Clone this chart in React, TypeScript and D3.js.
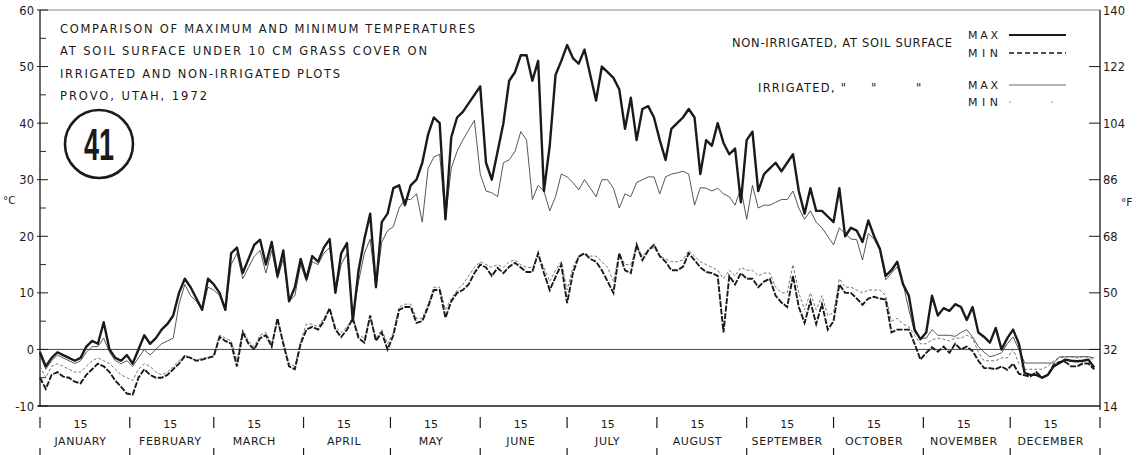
import React, { useEffect, useRef } from "react";
import * as d3 from "d3";

const width = 1147;
const height = 455;

// day of year (1972), one reading every second day
const days = d3.range(0, 365, 2);

// non-irrigated plot, soil surface, max (°C)
const niMax = [
  -0.5, -3, -1.5, -0.5, -1, -1.5, -2, -1.5, 0.5, 1.5,
  1, 4.8, 0, -1.5, -2, -1, -2.5, 0, 2.5, 1,
  2, 3.5, 4.5, 6, 10, 12.5, 11, 9, 7, 12.5,
  11.5, 10, 7, 17, 18, 13.5, 16, 18.5, 19.4, 15,
  19, 13, 17.5, 8.5, 11, 16, 12.5, 16.5, 15.5, 18,
  19.5, 10, 17, 18.8, 5, 14, 19.5, 24, 11, 22.5,
  24, 28.5, 29, 25.5, 29, 30, 33, 38, 41, 40,
  23, 37.5, 41, 42, 43.5, 45, 46.5, 33, 30, 35,
  40, 47.5, 49, 52, 52, 47.5, 51, 28, 36, 48.5,
  51, 53.8, 51.5, 50.5, 53, 48.5, 44, 50, 49, 48,
  46, 39, 44.5, 37, 42.5, 43, 41, 37, 33.5, 39,
  40, 41, 42.5, 41, 31, 37, 36, 40, 36.5, 34.5,
  35.5, 26, 37, 38.5, 28, 31, 32, 33, 31.5, 33,
  34.5, 28, 24, 28.5, 24.5, 24.5, 23.5, 22.5, 28.5, 20,
  21.5, 21, 19, 22.8, 20, 17.8, 13, 14, 15.5, 11.5,
  9.5, 3.5, 1.8, 3, 9.5, 6, 7.3, 6.8, 8, 7.5,
  5.2, 7.5, 3, 2.2, 1.2, 3.8, 0, 2, 3.5, 1,
  -4.2, -4.5, -4.5, -5, -4.5, -3, -2.4, -1.8, -2, -2.1,
  -2, -1.8, -3.2,
];

// non-irrigated plot, soil surface, min (°C)
const niMin = [
  -5, -7, -4.5, -4, -4.8, -5, -5.7, -6, -4.5, -3.5,
  -2.5, -3, -4, -5.5, -6.6, -7.8, -8, -5, -3.5, -4.5,
  -5, -5, -4.5, -3.5, -2.5, -1.2, -1.5, -2, -1.8, -1.5,
  -1.2, 2.2, 1.5, 1, -3, 3, 1, 0, 2, 2.5,
  0.5, 5.5, 1, -3, -3.5, 1, 3.5, 4, 3.5, 5,
  7.3, 3.5, 2.2, 3.5, 5.5, 2, 1.2, 6, 1.5, 3,
  0, 2.5, 7, 7.5, 7.5, 4.7, 5, 7.5, 10.5, 10.5,
  5.6, 8.5, 10, 10.5, 11.5, 13.5, 15, 14.5, 13, 14.4,
  13.5, 14.6, 15.3, 14.5, 13.7, 13.7, 17, 13.5, 10.5, 12.8,
  15, 8.2, 13.5, 16.4, 17, 16, 15.5, 14, 12, 10,
  17, 14, 13.5, 18.5, 15.8, 17.5, 18.5, 16.5, 15.5, 14,
  14, 14.6, 17, 15.8, 14.5, 13.7, 13.5, 13, 3, 13,
  11.5, 13.5, 12.5, 12.5, 11, 12, 12.5, 9.5, 8.3, 7.5,
  13, 7.5, 4.7, 8.5, 4.5, 8, 3.5, 5, 11.5, 10,
  10, 9, 7.9, 9, 9.3, 9, 8.8, 3, 3.5, 3.5,
  3.5, 1, -1.8, -0.6, 0.4, -0.4, 0.5, -0.6, 1, 0,
  0.5, -0.3, -2, -3.3, -3.3, -3.5, -3, -3.6, -2.5, -4.3,
  -4.6, -4.8, -4, -5, -4.5, -2.7, -2.2, -2.2, -3, -3,
  -2.5, -2.5, -3.5,
];

// irrigated plot, max (°C)
const irMax = [
  -1, -3.5, -2, -1, -1.5, -2, -2.5, -2, -0.5, 0.5,
  0.5, 2, -0.5, -2, -2.5, -2, -3, -1.5, 0, -1,
  0, 1, 1.5, 2, 8, 11.5, 9.5, 8.5, 7, 11,
  10.5, 9.5, 7, 15, 17, 12.5, 14.5, 16.5, 17.5, 13.5,
  17.5, 12.5, 16, 8.5, 9.5, 15, 12, 15.5, 15, 17,
  18, 10, 15, 17, 6, 12, 17, 19.5, 11, 19,
  21, 21.7, 25, 26.5, 26.5, 27.5, 22.5, 32, 34, 34.5,
  23, 32, 35, 37, 38.8, 40.5, 31, 28, 27.7, 27,
  33, 33.5, 35, 38.5, 37, 26.5, 29, 28, 24.5, 27,
  31, 30.5, 29.5, 28.2, 30, 28.5, 27, 30, 30, 28.5,
  25, 27.5, 27, 29.5, 30, 30.5, 30.5, 27.5, 30.5, 31,
  31.2, 31.5, 31, 25.5, 28.6, 28.5, 28, 28.5, 27.5, 27,
  25.5, 28.5, 23, 29, 25, 25.5, 25.5, 26, 26.5, 26.5,
  28, 25, 23, 24.5, 22.5, 21.5, 20, 18.5, 21.5, 20.5,
  19.5, 19.4, 15.8, 20.5, 19.5, 17.5, 12.3, 13.5, 14.6, 11.7,
  7, 3, 2, 2, 3.5, 2.5, 2.5, 2.5, 2.3, 3,
  3.5, 2.2, 0.5, -0.5, -1.3, -1, -0.6, 1, 2.2, 0,
  -2.4, -2.4, -2.4, -2.4, -2.4, -2.4, -1.3, -1.3, -1.3, -1.3,
  -1.3, -1.3, -1.5,
];

// irrigated plot, min (°C)
const irMin = [
  -3, -5, -3, -2.5, -3, -3.5, -4, -4, -3, -2,
  -1.5, -2, -2.5, -3.5, -4.5, -5, -5.5, -3.5, -2.5, -3,
  -4, -4.5, -4, -3, -2, -1, -1.5, -2, -1.5, -1.5,
  -1, 2.5, 2, 1.5, -2, 3.5, 1.5, 0.5, 2.5, 3,
  1, 5, 1.5, -2.5, -3, 1.5, 4.5, 4.5, 4, 5.5,
  7, 4, 3, 4, 5.5, 2.5, 2, 5.5, 2, 3.5,
  1, 3, 7.5, 8, 8, 5.5, 5.5, 8, 11, 11,
  7, 9, 10.5, 11.5, 13, 14.5, 15.5, 15, 14.5, 15,
  14.5, 15.5, 15.8, 15, 14.5, 14.5, 16.5, 14.5, 12, 14,
  15.5, 10.5, 14.5, 16.5, 17, 16.5, 16.5, 15.5, 14.5, 12,
  17, 15, 15, 18, 16.5, 17.5, 18, 16.5, 16, 15.5,
  15.5, 15.8, 17.5, 16.5, 15.5, 15, 14.5, 14, 12.5, 14,
  13, 14.5, 14, 14, 13, 13.5, 13.5, 11, 10, 10,
  15, 10, 7, 10, 7, 9.5, 6, 6.5, 12.5, 11,
  11, 10.5, 10, 10.5, 10.5, 10.5, 9.5, 5, 5.5, 4.5,
  4, 2.5, 1, 1, 1.7, 2, 1.8, 1.5, 2, 2,
  2.5, 2, -0.5, -2, -2, -2, -1.5, -1.5, 0, -2.5,
  -3.5, -3.5, -3.5, -3.5, -3, -2, -1.5, -1.3, -1.3, -1.5,
  -1.3, -1.3, -2,
];

const monthNames = [
  "JANUARY", "FEBRUARY", "MARCH", "APRIL", "MAY", "JUNE",
  "JULY", "AUGUST", "SEPTEMBER", "OCTOBER", "NOVEMBER", "DECEMBER",
];
const monthStarts = [0, 31, 60, 91, 121, 152, 182, 213, 244, 274, 305, 335, 366];
const celsiusTicks = [-10, 0, 10, 20, 30, 40, 50, 60];
const fahrenheitTicks = [14, 32, 50, 68, 86, 104, 122, 140];

const titleLines = [
  "COMPARISON OF MAXIMUM AND MINIMUM TEMPERATURES",
  "AT SOIL SURFACE UNDER 10 CM GRASS COVER ON",
  "IRRIGATED AND NON-IRRIGATED PLOTS",
  "PROVO, UTAH, 1972",
];

const FONT = "'DejaVu Sans', sans-serif";
const INK = "#1a1a1a";

const App = () => {
  const ref: any = useRef(null);

  useEffect(() => {
    const svg = d3.select(ref.current);
    svg.selectAll("*").remove();

    const x = d3.scaleLinear().domain([0, 366]).range([40, 1100]);
    const y = d3.scaleLinear().domain([-10, 60]).range([406, 10]);
    const yF = d3.scaleLinear().domain([14, 140]).range([406, 10]);

    const g = svg.append("g").attr("font-family", FONT).attr("fill", INK);

    // frame
    g.append("line").attr("x1", 40).attr("x2", 1100).attr("y1", y(60)).attr("y2", y(60))
      .attr("stroke", "#888").attr("stroke-width", 1);
    g.append("line").attr("x1", 40).attr("x2", 40).attr("y1", y(60)).attr("y2", y(-10))
      .attr("stroke", INK).attr("stroke-width", 1.3);
    g.append("line").attr("x1", 1100).attr("x2", 1100).attr("y1", y(60)).attr("y2", y(-10) + 4)
      .attr("stroke", INK).attr("stroke-width", 1.3);
    g.append("line").attr("x1", 38).attr("x2", 1100).attr("y1", y(-10)).attr("y2", y(-10))
      .attr("stroke", INK).attr("stroke-width", 1.3);

    // zero line
    g.append("line").attr("x1", 40).attr("x2", 1100).attr("y1", y(0)).attr("y2", y(0))
      .attr("stroke", "#333").attr("stroke-width", 0.9);

    // left axis (°C)
    g.selectAll(".ct").data(celsiusTicks).join("line")
      .attr("x1", 37).attr("x2", 48).attr("y1", (d) => y(d)).attr("y2", (d) => y(d))
      .attr("stroke", INK).attr("stroke-width", 1);
    g.selectAll(".cm").data(celsiusTicks.slice(1).map((d) => d - 5)).join("line")
      .attr("x1", 40).attr("x2", 46).attr("y1", (d) => y(d)).attr("y2", (d) => y(d))
      .attr("stroke", INK).attr("stroke-width", 0.9);
    g.selectAll(".cl").data(celsiusTicks).join("text")
      .attr("x", 34).attr("y", (d) => y(d) + 4.5).attr("text-anchor", "end")
      .attr("font-size", 11.5).text((d) => d);
    g.append("text").attr("x", 3).attr("y", 204).attr("font-size", 10.5).text("°C");

    // right axis (°F)
    g.selectAll(".ft").data(fahrenheitTicks.slice(1, -1)).join("line")
      .attr("x1", 1089).attr("x2", 1100).attr("y1", (d) => yF(d)).attr("y2", (d) => yF(d))
      .attr("stroke", INK).attr("stroke-width", 1);
    g.selectAll(".fl").data(fahrenheitTicks).join("text")
      .attr("x", 1103).attr("y", (d) => yF(d) + 4.5)
      .attr("font-size", 11.5).text((d) => d);
    g.append("text").attr("x", 1121).attr("y", 206).attr("font-size", 10.5).text("°F");

    // months
    g.selectAll(".mt").data(monthStarts).join("line")
      .attr("x1", (d) => x(d)).attr("x2", (d) => x(d)).attr("y1", 417).attr("y2", 428)
      .attr("stroke", INK).attr("stroke-width", 1.2);
    g.selectAll(".mb").data(monthStarts).join("line")
      .attr("x1", (d) => x(d)).attr("x2", (d) => x(d)).attr("y1", 448).attr("y2", 455)
      .attr("stroke", INK).attr("stroke-width", 1.2);
    g.selectAll(".m15").data(monthStarts.slice(0, 12)).join("text")
      .attr("x", (d) => x(d + 14)).attr("y", 428).attr("text-anchor", "middle")
      .attr("font-size", 11).text("15");
    g.selectAll(".mn").data(monthNames).join("text")
      .attr("x", (_, i) => x(monthStarts[i] + 14)).attr("y", 445).attr("text-anchor", "middle")
      .attr("font-size", 11).attr("letter-spacing", 0.6).text((d) => d);

    // series
    const line = (vals: number[]) =>
      d3.line<number>().x((_, i) => x(days[i])).y((d) => y(d))(vals);

    g.append("path").attr("d", line(irMin)).attr("fill", "none")
      .attr("stroke", "#666").attr("stroke-width", 0.9).attr("stroke-dasharray", "3,2");
    g.append("path").attr("d", line(irMax)).attr("fill", "none")
      .attr("stroke", "#444").attr("stroke-width", 0.9);
    g.append("path").attr("d", line(niMin)).attr("fill", "none")
      .attr("stroke", INK).attr("stroke-width", 1.9).attr("stroke-dasharray", "6,1.5");
    g.append("path").attr("d", line(niMax)).attr("fill", "none")
      .attr("stroke", INK).attr("stroke-width", 2.4).attr("stroke-linejoin", "round");

    // title block
    const titleLen = [415, 367, 280, 147];
    g.selectAll(".tt").data(titleLines).join("text")
      .attr("x", 60).attr("y", (_, i) => 33 + i * 22.3)
      .attr("font-size", 11.5).attr("textLength", (_, i) => titleLen[i])
      .attr("lengthAdjust", "spacing").text((d) => d);

    g.append("circle").attr("cx", 99).attr("cy", 144).attr("r", 34)
      .attr("fill", "none").attr("stroke", INK).attr("stroke-width", 2.6);
    g.append("text").attr("x", 99).attr("y", 160).attr("text-anchor", "middle")
      .attr("font-family", "'Liberation Sans', sans-serif").attr("font-weight", "bold")
      .attr("font-size", 44).attr("textLength", 30).attr("lengthAdjust", "spacingAndGlyphs")
      .text("41");

    // legend
    g.append("text").attr("x", 732).attr("y", 47).attr("font-size", 11.5)
      .attr("textLength", 220).attr("lengthAdjust", "spacing")
      .text("NON-IRRIGATED, AT SOIL SURFACE");
    g.append("text").attr("x", 758).attr("y", 92).attr("font-size", 11.5)
      .attr("textLength", 88).attr("lengthAdjust", "spacing").text("IRRIGATED, \"");
    g.append("text").attr("x", 871).attr("y", 92).attr("font-size", 11.5).text("\"");
    g.append("text").attr("x", 916).attr("y", 92).attr("font-size", 11.5).text("\"");

    const legendRows = [
      { label: "MAX", y: 39, dash: null, w: 2.2, c: INK },
      { label: "MIN", y: 57, dash: "5,3", w: 1.6, c: INK },
      { label: "MAX", y: 89, dash: null, w: 0.9, c: "#555" },
      { label: "MIN", y: 106, dash: "2,40", w: 0.9, c: "#888" },
    ];
    legendRows.forEach((r) => {
      g.append("text").attr("x", 968).attr("y", r.y).attr("font-size", 11)
        .attr("textLength", 30).attr("lengthAdjust", "spacing").text(r.label);
      g.append("line").attr("x1", 1009).attr("x2", 1066)
        .attr("y1", r.y - 4).attr("y2", r.y - 4)
        .attr("stroke", r.c).attr("stroke-width", r.w)
        .attr("stroke-dasharray", r.dash);
    });
  }, []);

  return (
    <div style={{ position: "absolute", left: 0, top: 0 }}>
      <svg ref={ref} width={width} height={height} style={{ display: "block", background: "#fff" }} />
    </div>
  );
};

export default App;
